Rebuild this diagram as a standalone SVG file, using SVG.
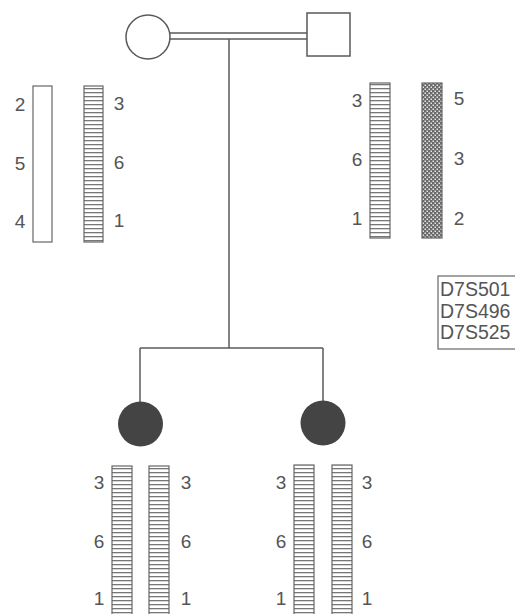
<svg xmlns="http://www.w3.org/2000/svg" width="515" height="614" viewBox="0 0 515 614">
<style>
.ln{stroke:#5a5a5a;stroke-width:1.5;fill:none}
.bar{stroke:#666;stroke-width:1.2}
.lbl{font-family:"Liberation Sans",Arial,sans-serif;font-size:19px;fill:#555;text-anchor:middle}
.leg{font-family:"Liberation Sans",Arial,sans-serif;font-size:19.5px;fill:#555}
</style>
<defs>
<pattern id="stripe" patternUnits="userSpaceOnUse" width="20" height="4">
<rect width="20" height="4" fill="#fff"/>
<rect y="0" width="20" height="1.3" fill="#777"/>
</pattern>
<pattern id="check" patternUnits="userSpaceOnUse" width="4" height="4">
<rect width="4" height="4" fill="#6a6a6a"/>
<rect x="0.5" y="0.5" width="1.5" height="1.5" fill="#e8e8e8"/>
<rect x="2.5" y="2.5" width="1.5" height="1.5" fill="#e8e8e8"/>
</pattern>
</defs>
<g id="connectors">
<line class="ln" x1="170" y1="33" x2="307" y2="33"/>
<line class="ln" x1="170" y1="39" x2="307" y2="39"/>
<line class="ln" x1="229" y1="39" x2="229" y2="348"/>
<line class="ln" x1="140" y1="348" x2="323" y2="348"/>
<line class="ln" x1="140" y1="348" x2="140" y2="402"/>
<line class="ln" x1="323" y1="348" x2="323" y2="401"/>
</g>
<g id="mother">
<circle class="ln" cx="148" cy="37" r="22"/>
<rect class="bar" x="33" y="86" width="19" height="156" fill="#fff"/>
<rect class="bar" x="84" y="86" width="19" height="156" fill="url(#stripe)"/>
<text class="lbl" x="20" y="111">2</text>
<text class="lbl" x="20" y="170">5</text>
<text class="lbl" x="20" y="228">4</text>
<text class="lbl" x="119" y="110">3</text>
<text class="lbl" x="119" y="169">6</text>
<text class="lbl" x="119" y="227">1</text>
</g>
<g id="father">
<rect class="ln" x="307" y="13" width="43" height="43"/>
<rect class="bar" x="370" y="83" width="20" height="155" fill="url(#stripe)"/>
<rect class="bar" x="422" y="83" width="20" height="155" fill="url(#check)"/>
<text class="lbl" x="357" y="107">3</text>
<text class="lbl" x="357" y="166">6</text>
<text class="lbl" x="357" y="225">1</text>
<text class="lbl" x="459" y="105">5</text>
<text class="lbl" x="459" y="165">3</text>
<text class="lbl" x="459" y="225">2</text>
</g>
<g id="legend">
<rect x="438" y="276" width="80" height="73" fill="none" stroke="#666" stroke-width="1.2"/>
<text class="leg" x="440" y="296">D7S501</text>
<text class="leg" x="440" y="317.5">D7S496</text>
<text class="leg" x="440" y="339">D7S525</text>
</g>
<g id="daughter1">
<circle cx="140.5" cy="424" r="22.5" fill="#444"/>
<rect class="bar" x="112" y="466" width="20" height="160" fill="url(#stripe)"/>
<rect class="bar" x="149" y="466" width="20" height="160" fill="url(#stripe)"/>
<text class="lbl" x="99" y="489">3</text>
<text class="lbl" x="99" y="548">6</text>
<text class="lbl" x="99" y="605">1</text>
<text class="lbl" x="186" y="489">3</text>
<text class="lbl" x="186" y="548">6</text>
<text class="lbl" x="186" y="605">1</text>
</g>
<g id="daughter2">
<circle cx="323" cy="423" r="22.5" fill="#444"/>
<rect class="bar" x="294" y="465" width="20" height="160" fill="url(#stripe)"/>
<rect class="bar" x="332" y="465" width="20" height="160" fill="url(#stripe)"/>
<text class="lbl" x="281" y="489">3</text>
<text class="lbl" x="281" y="548">6</text>
<text class="lbl" x="281" y="605">1</text>
<text class="lbl" x="367" y="489">3</text>
<text class="lbl" x="367" y="548">6</text>
<text class="lbl" x="367" y="605">1</text>
</g>
</svg>
